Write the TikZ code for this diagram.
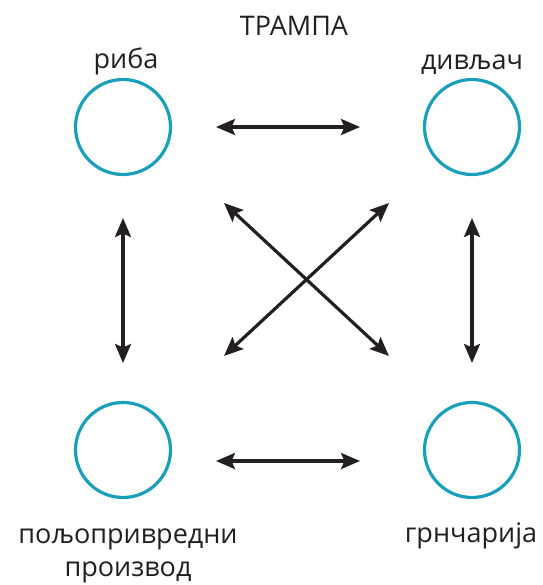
\documentclass[tikz,border=0pt]{standalone}
\usepackage{fontspec}
\setmainfont{Open Sans}
\usetikzlibrary{arrows.meta}
\definecolor{ring}{HTML}{1A9FBA}
\definecolor{ink}{HTML}{231F20}
\begin{document}
\begin{tikzpicture}[x=1pt,y=-1pt,
  ringnode/.style={circle,draw=ring,line width=3.2pt,minimum size=95pt,inner sep=0pt},
  lbl/.style={font=\fontsize{27}{33}\selectfont,text=ink,inner sep=0pt,anchor=base},
  tipx/.tip={Stealth[length=19pt,width=16pt,inset=3.5pt]},
  arr/.style={draw=ink,line width=3.2pt,tipx-tipx}]
\useasboundingbox (0,0) rectangle (542,585);
\node[ringnode] (fish) at (123,127) {};
\node[ringnode] (game) at (472,127) {};
\node[ringnode] (agri) at (123,450) {};
\node[ringnode] (pot) at (472,450) {};
\node[lbl] (title) at (294,36) {ТРАМПА};
\node[lbl] (lfish) at (126,69) {риба};
\node[lbl] (lgame) at (472,70) {дивљач};
\node[lbl,align=center] (lagri) at (128,576) {пољопривредни\\производ};
\node[lbl] (lpot) at (471,542) {грнчарија};
\coordinate (h1a) at (216,127); \coordinate (h1b) at (360,127);
\coordinate (h2a) at (216,461); \coordinate (h2b) at (360,461);
\coordinate (v1a) at (123,218); \coordinate (v1b) at (123,363);
\coordinate (v2a) at (472,218); \coordinate (v2b) at (472,363);
\coordinate (d1a) at (224,203); \coordinate (d1b) at (389,356);
\coordinate (d2a) at (389,203); \coordinate (d2b) at (224,356);
\draw[arr] (h1a) -- (h1b);
\draw[arr] (h2a) -- (h2b);
\draw[arr] (v1a) -- (v1b);
\draw[arr] (v2a) -- (v2b);
\draw[arr] (d1a) -- (d1b);
\draw[arr] (d2a) -- (d2b);
\end{tikzpicture}
\end{document}
